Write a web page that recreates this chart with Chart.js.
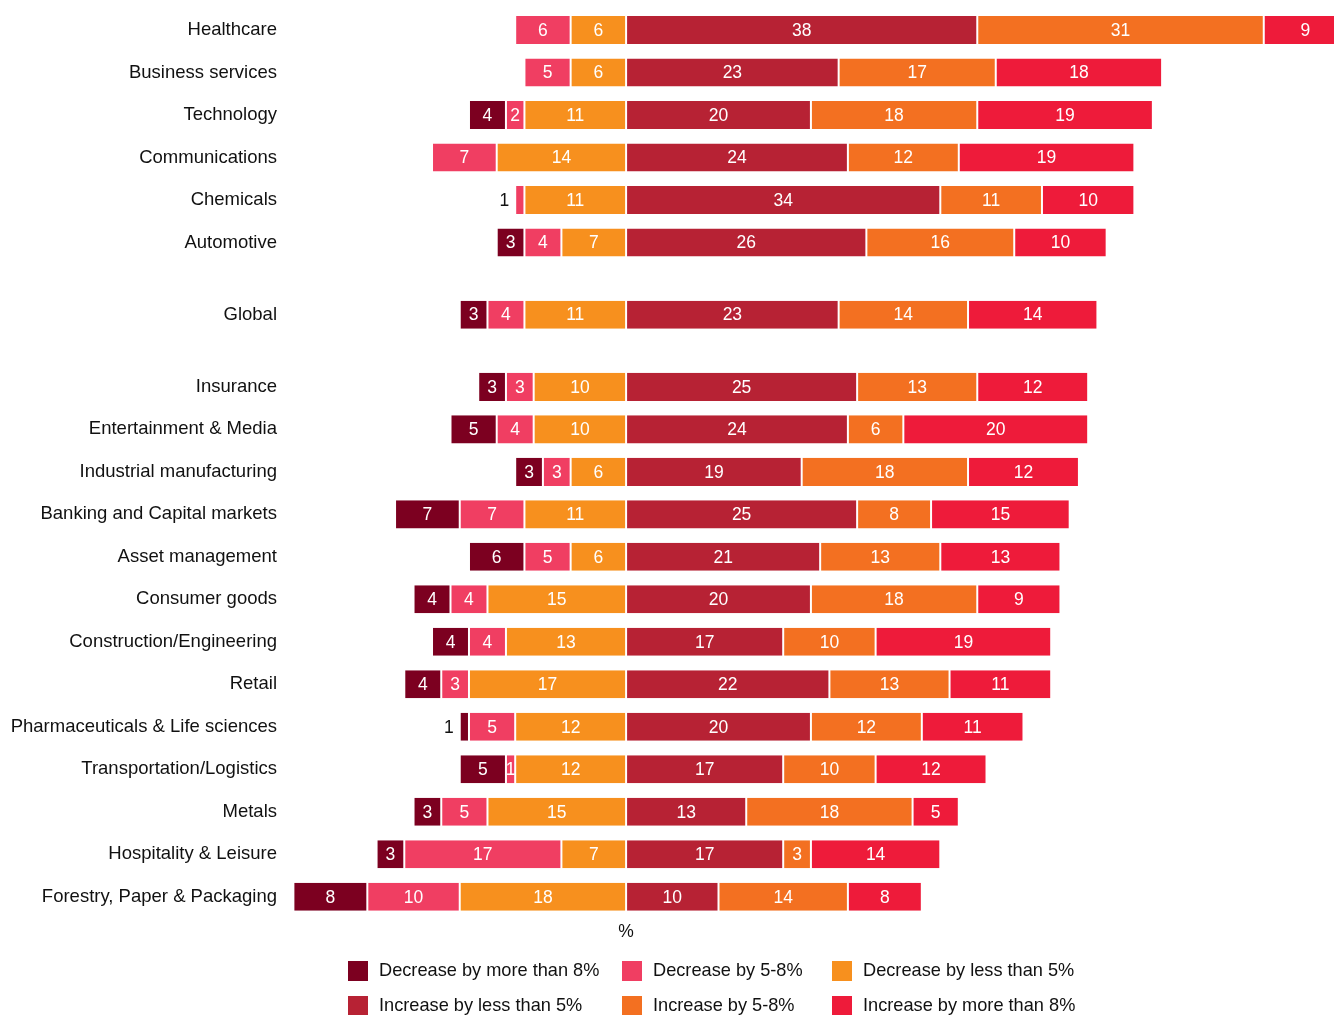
<!DOCTYPE html>
<html>
<head>
<meta charset="utf-8">
<script src="https://cdn.jsdelivr.net/npm/chart.js@4.4.0/dist/chart.umd.min.js"></script>
<style>
    body { margin: 0; background: #fff; font-family: "Liberation Sans", Arial, sans-serif; }
    #wrap { position: relative; width: 1334px; height: 1015px; overflow: hidden; }
    #legend { position: absolute; left: 348px; top: 953px; display: grid;
              grid-template-columns: 274px 210px auto; grid-auto-rows: 35px;
              font-size: 18.2px; color: #111; }
    .item { display: flex; align-items: center; white-space: nowrap; }
    .box { width: 20px; height: 20px; margin-right: 11px; flex: none; }
</style>
</head>
<body>
<div id="wrap">
    <canvas id="chart"></canvas>
    <div id="legend"></div>
</div>
<script>
// ====== Categories (top to bottom) ======
const CATEGORIES = [
    "Healthcare", "Business services", "Technology", "Communications", "Chemicals", "Automotive",
    "Global",
    "Insurance", "Entertainment & Media", "Industrial manufacturing", "Banking and Capital markets",
    "Asset management", "Consumer goods", "Construction/Engineering", "Retail",
    "Pharmaceuticals & Life sciences", "Transportation/Logistics", "Metals",
    "Hospitality & Leisure", "Forestry, Paper & Packaging"
];
// rows followed by an extra gap
const GAP_AFTER = ["Automotive", "Global"];

// ====== Series values (%) ======
const DEC_MORE_8 = [0, 0, 4, 0, 0, 3, 3, 3, 5, 3, 7, 6, 4, 4, 4, 1, 5, 3, 3, 8];
const DEC_5_8    = [6, 5, 2, 7, 1, 4, 4, 3, 4, 3, 7, 5, 4, 4, 3, 5, 1, 5, 17, 10];
const DEC_LESS_5 = [6, 6, 11, 14, 11, 7, 11, 10, 10, 6, 11, 6, 15, 13, 17, 12, 12, 15, 7, 18];
const INC_LESS_5 = [38, 23, 20, 24, 34, 26, 23, 25, 24, 19, 25, 21, 20, 17, 22, 20, 17, 13, 17, 10];
const INC_5_8    = [31, 17, 18, 12, 11, 16, 14, 13, 6, 18, 8, 13, 18, 10, 13, 12, 10, 18, 3, 14];
const INC_MORE_8 = [9, 18, 19, 19, 10, 10, 14, 12, 20, 12, 15, 13, 9, 19, 11, 11, 12, 5, 14, 8];

// ====== Series labels and colours ======
const SERIES_LABELS = [
    "Decrease by more than 8%", "Decrease by 5-8%", "Decrease by less than 5%",
    "Increase by less than 5%", "Increase by 5-8%", "Increase by more than 8%"
];
const SERIES_COLORS = [
    "#7c0020", // decrease > 8
    "#f03e62", // decrease 5-8
    "#f7901e", // decrease < 5
    "#b72234", // increase < 5
    "#f37021", // increase 5-8
    "#ee1b3a"  // increase > 8
];
const SERIES_VALUES = [DEC_MORE_8, DEC_5_8, DEC_LESS_5, INC_LESS_5, INC_5_8, INC_MORE_8];
const SERIES_SIGN = [-1, -1, -1, 1, 1, 1];

const FONT = '"Liberation Sans", Arial, sans-serif';

// ---- row positions on the y scale (extra space after GAP_AFTER rows) ----
const GAP = 0.7;
const ROW_POS = [];
let pos = 0;
CATEGORIES.forEach(c => {
    ROW_POS.push(pos);
    pos += 1 + (GAP_AFTER.includes(c) ? GAP : 0);
});
const LAST_POS = ROW_POS[ROW_POS.length - 1];

// ---- build datasets: negatives stack outward from 0, nearest first ----
const STACK_ORDER = [2, 1, 0, 3, 4, 5];
const datasets = STACK_ORDER.map(s => ({
    label: SERIES_LABELS[s],
    backgroundColor: SERIES_COLORS[s],
    borderColor: "#ffffff",
    borderWidth: {left: 1, right: 1, top: 0, bottom: 0},
    borderSkipped: false,
    barPercentage: 0.66,
    categoryPercentage: 1,
    data: SERIES_VALUES[s].map((v, i) => ({x: v ? SERIES_SIGN[s] * v : null, y: ROW_POS[i]}))
}));

// ---- value labels on the bars ----
const valueLabels = {
    id: 'valueLabels',
    afterDatasetsDraw(chart) {
        const ctx = chart.ctx;
        ctx.save();
        ctx.font = '17.5px ' + FONT;
        ctx.textBaseline = 'middle';
        chart.data.datasets.forEach((ds, di) => {
            const meta = chart.getDatasetMeta(di);
            meta.data.forEach((bar, i) => {
                const v = ds.data[i].x;
                if (!v)
                    return;
                const txt = String(Math.abs(v));
                const left = Math.min(bar.x, bar.base), right = Math.max(bar.x, bar.base);
                const outer = v < 0 && chart.data.datasets.slice(di + 1).every(o => !(o.data[i].x < 0));
                if (right - left < 12 && outer) {
                    ctx.fillStyle = '#111';
                    ctx.textAlign = 'right';
                    ctx.fillText(txt, left - 6, bar.y + 1);
                } else {
                    ctx.fillStyle = '#ffffff';
                    ctx.textAlign = 'center';
                    ctx.fillText(txt, (left + right) / 2, bar.y + 1);
                }
            });
        });
        ctx.restore();
    }
};

// ---- "%" under the zero line ----
const percentLabel = {
    id: 'percentLabel',
    afterDraw(chart) {
        const ctx = chart.ctx;
        ctx.save();
        ctx.font = '17.5px ' + FONT;
        ctx.fillStyle = '#111';
        ctx.textAlign = 'center';
        ctx.textBaseline = 'middle';
        ctx.fillText('%', chart.scales.x.getPixelForValue(0), chart.chartArea.bottom + 14);
        ctx.restore();
    }
};

new Chart(document.getElementById('chart'), {
    type: 'bar',
    data: {datasets},
    plugins: [valueLabels, percentLabel],
    options: {
        indexAxis: 'y',
        responsive: true,
        maintainAspectRatio: false,
        animation: false,
        layout: {padding: {top: 8.75, bottom: 97, left: 0, right: 0}},
        plugins: {
            legend: {display: false},
            tooltip: {enabled: false}
        },
        scales: {
            x: {
                type: 'linear',
                stacked: true,
                min: -36.8,
                max: 76.6,
                display: false
            },
            y: {
                type: 'linear',
                stacked: true,
                reverse: true,
                offset: false,
                min: -0.5,
                max: LAST_POS + 0.5,
                grid: {display: false, drawTicks: false, offset: false},
                border: {display: false},
                afterBuildTicks: axis => {
                    axis.ticks = ROW_POS.map(v => ({value: v}));
                },
                afterFit: axis => {
                    axis.width = 286;
                    axis.paddingTop = 0;
                    axis.paddingBottom = 0;
                },
                ticks: {
                    autoSkip: false,
                    padding: 9,
                    color: '#111',
                    font: {family: FONT, size: 18.5},
                    callback: (value, index) => CATEGORIES[index]
                }
            }
        }
    }
});

// ---- HTML legend ----
const legend = document.getElementById('legend');
SERIES_LABELS.forEach((label, i) => {
    const item = document.createElement('div');
    item.className = 'item';
    item.innerHTML = `<span class="box" style="background:${SERIES_COLORS[i]}"></span>${label}`;
    legend.appendChild(item);
});
</script>
</body>
</html>
